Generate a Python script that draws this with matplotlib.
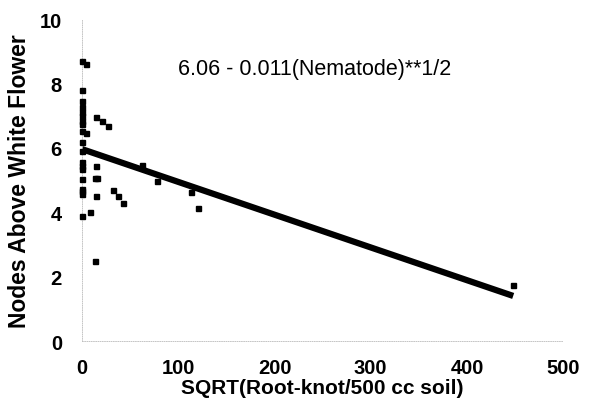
import matplotlib.pyplot as plt

plt.rcParams['font.family'] = ['Liberation Sans', 'DejaVu Sans']

# scatter points
sqrt_rk = [0, 4, 0, 0, 0, 0, 0, 0, 0, 0, 15, 21, 27, 0, 4, 0, 0, 0, 0, 0, 15,
           0, 13, 16, 0, 0, 32, 37, 43, 15, 0, 8, 14, 62, 78, 113, 121, 448]
nodes = [8.70, 8.60, 7.80, 7.46, 7.27, 7.12, 6.98, 6.84, 6.74, 6.53, 6.95, 6.84, 6.67, 6.17, 6.45,
         5.91, 5.56, 5.45, 5.34, 5.03, 5.43, 4.72, 5.05, 5.05, 4.66, 4.56, 4.70, 4.49, 4.29, 4.49,
         3.89, 4.00, 2.49, 5.47, 4.98, 4.62, 4.12, 1.74]

# fitted line end points
fit_x = [0, 448]
fit_y = [5.96, 1.40]

equation = "6.06 - 0.011(Nematode)**1/2"

fig = plt.figure(figsize=(6.13, 4.06), dpi=100)
ax = fig.add_axes([0.1338, 0.1576, 0.785, 0.793])

ax.plot(fit_x, fit_y, color='black', lw=4.5, solid_capstyle='butt', zorder=2)
ax.plot(sqrt_rk, nodes, ls='none', marker='s', ms=3.6, color='black', zorder=3, clip_on=False)

ax.set_xlim(0, 500)
ax.set_ylim(0, 10)
ax.set_xticks([0, 100, 200, 300, 400, 500])
ax.set_yticks([0, 2, 4, 6, 8, 10])

for s in ['top', 'right']:
    ax.spines[s].set_visible(False)
for s in ['left', 'bottom']:
    ax.spines[s].set_color('#bbbbbb')
    ax.spines[s].set_linewidth(0.6)
    ax.spines[s].set_linestyle(':')

ax.tick_params(axis='y', length=0, labelsize=14.5, pad=14.5)
ax.tick_params(axis='x', length=0, labelsize=14.5, pad=12)
for lab in ax.get_xticklabels() + ax.get_yticklabels():
    lab.set_fontweight('bold')

ax.set_xlabel("SQRT(Root-knot/500 cc soil)", fontsize=15, fontweight='bold', labelpad=1)
ax.set_ylabel("Nodes Above White Flower", fontsize=16.5, fontweight='bold', labelpad=6)

ax.text(0.2, 0.845, equation, transform=ax.transAxes, fontsize=15.5, va='center')

fig.savefig("out.png", dpi=100)
